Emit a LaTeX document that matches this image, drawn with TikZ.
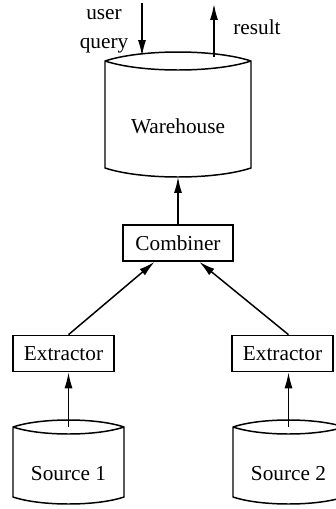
\documentclass[tikz,border=0pt]{standalone}
\usepackage{fontspec}
\setmainfont{Liberation Serif}
\usetikzlibrary{arrows.meta,positioning,calc}

% drum: name, left, right, lid y, base y, bulge, label
\newcommand{\dbdrum}[7]{%
  \draw[drum] (#2,#4)
    .. controls ({#2+(#3-#2)/4},{#4-1.333*#6}) and ({#3-(#3-#2)/4},{#4-1.333*#6}) .. (#3,#4)
    .. controls ({#3-(#3-#2)/4},{#4+1.333*#6}) and ({#2+(#3-#2)/4},{#4+1.333*#6}) .. (#2,#4)
    -- (#2,#5)
    .. controls ({#2+(#3-#2)/4},{#5+1.333*#6}) and ({#3-(#3-#2)/4},{#5+1.333*#6}) .. (#3,#5)
    -- (#3,#4);
  \coordinate (#1-lid) at ({(#2+#3)/2},{#4});
  \coordinate (#1-bot) at ({(#2+#3)/2},{#5+#6});
  \node (#1) at ({(#2+#3)/2},{(#4+#5)/2+12}) {#7};}

\begin{document}
\begin{tikzpicture}[x=0.47pt,y=-0.47pt,
        drum/.style={line width=.7pt, line join=round},
        box/.style={draw, line width=.7pt, minimum height=17pt, inner sep=2pt},
        flow/.style={-{Latex[length=7.5pt,width=3.8pt]}, line width=.7pt}]
  \useasboundingbox (0,0) rectangle (336,509);

  \dbdrum{wh}{105}{251}{61}{168}{9}{Warehouse}
  \dbdrum{s1}{13}{124}{427}{497}{7}{Source 1}
  \dbdrum{s2}{233}{344}{427}{497}{7}{Source 2}

  \node[box, minimum width=51.7pt] (cmb) at (178,243) {Combiner};
  \node[box, minimum width=47.5pt] (ex1) at (63.5,353.5) {Extractor};
  \node[box, minimum width=47.5pt] (ex2) at (282.5,353.5) {Extractor};

  \coordinate (qout) at (142,3);
  \coordinate (qin) at (142,56);
  \coordinate (rin) at (214,57);
  \coordinate (rout) at (214,4);
  \node[align=center, inner sep=0pt] (qlab) at (104,31) {user\\[1.5pt]query};
  \node[inner sep=0pt] (rlab) at (257,27) {result};

  \draw[flow] (qout) -- (qin);
  \draw[flow] (rin) -- (rout);
  \draw[flow] (cmb.north) -- (wh-bot);
  \draw[flow] (s1-lid |- ex1.north) -- ([xshift=-11pt]cmb.south);
  \draw[flow] (s2-lid |- ex2.north) -- ([xshift=10pt]cmb.south);
  \draw[flow] (s1-lid) -- (s1-lid |- ex1.south);
  \draw[flow] (s2-lid) -- (s2-lid |- ex2.south);
\end{tikzpicture}
\end{document}
